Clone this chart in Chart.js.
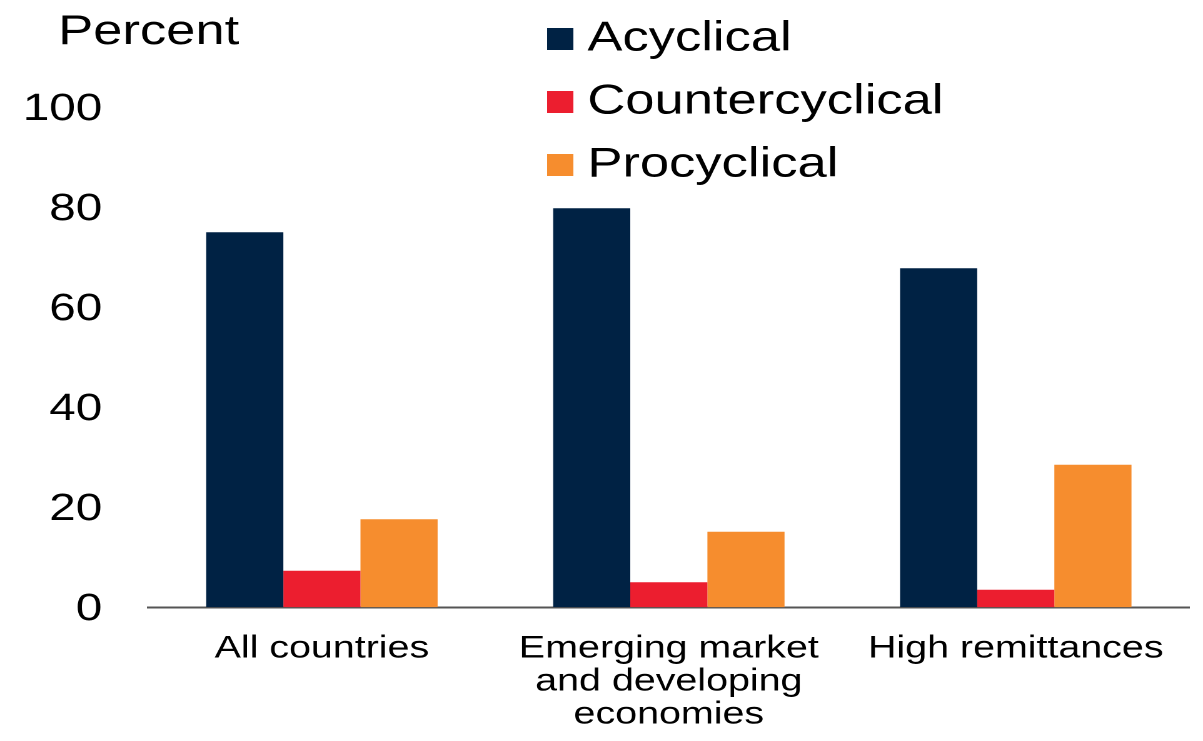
<!DOCTYPE html>
<html>
<head>
<meta charset="utf-8">
<script src="https://cdn.jsdelivr.net/npm/chart.js@4/dist/chart.umd.min.js"></script>
<style>
  html, body { margin: 0; padding: 0; background: #fff; overflow: hidden; }
  /* the reference is drawn horizontally stretched, so the chart is laid out narrower and scaled in x */
  #wrap { width: 962px; height: 741px; transform: scaleX(1.2505); transform-origin: 0 0; }
</style>
</head>
<body>
<div id="wrap"><canvas id="chart"></canvas></div>
<script>
const categories = [
    ['All countries'],
    ['Emerging market', 'and developing', 'economies'],
    ['High remittances']
];
const seriesNames = ['Acyclical', 'Countercyclical', 'Procyclical'];
const acyclical = [75.0, 79.8, 67.8];
const countercyclical = [7.3, 5.0, 3.5];
const procyclical = [17.6, 15.1, 28.5];
const seriesColors = ['#002244', '#EC1E2F', '#F68D2E'];
const yTicks = [0, 20, 40, 60, 80, 100];

const FONT = "'Liberation Sans', Arial, sans-serif";

// small square swatches for the legend (drawn as point style so the text sits close)
function makeSwatch(color) {
    const c = document.createElement('canvas');
    c.width = 21;
    c.height = 22;
    const g = c.getContext('2d');
    g.fillStyle = color;
    g.fillRect(0, 0, 21, 22);
    return c;
}
const swatches = seriesColors.map(makeSwatch);

// legend and title sit inside the plot area in the reference, move them after layout
const placeBlocks = {
    id: 'placeBlocks',
    afterLayout(chart) {
        if (chart.legend) {
            chart.legend.left = 426.7;
            chart.legend.top = -3;
        }
        if (chart.titleBlock) {
            chart.titleBlock.left = 46.5;
        }
    }
};

const ctx = document.getElementById('chart').getContext('2d');
new Chart(ctx, {
    type: 'bar',
    data: {
        labels: categories,
        datasets: [acyclical, countercyclical, procyclical].map((vals, i) => ({
            label: seriesNames[i],
            data: vals,
            backgroundColor: seriesColors[i],
            borderWidth: 0,
            barPercentage: 1,
            categoryPercentage: 0.667
        }))
    },
    options: {
        responsive: true,
        maintainAspectRatio: false,
        animation: false,
        devicePixelRatio: 2,
        layout: { padding: { left: 15, right: 11, top: 0, bottom: 9.7 } },
        plugins: {
            tooltip: { enabled: false },
            title: {
                display: true,
                text: 'Percent',
                align: 'start',
                color: '#000',
                font: { family: FONT, size: 42, weight: 'normal', lineHeight: 1.2 },
                padding: { top: 7, bottom: 49.9 }
            },
            legend: {
                position: 'chartArea',
                align: 'start',
                labels: {
                    color: '#000',
                    font: { family: FONT, size: 42 },
                    usePointStyle: true,
                    boxWidth: 1,
                    boxHeight: 22,
                    padding: 21,
                    textAlign: 'left',
                    generateLabels(chart) {
                        const items = Chart.defaults.plugins.legend.labels.generateLabels(chart);
                        items.forEach((it, i) => { it.pointStyle = swatches[i]; });
                        return items;
                    }
                }
            }
        },
        scales: {
            x: {
                grid: { display: false, drawTicks: false },
                border: { display: true, color: '#555', width: 2 },
                ticks: {
                    color: '#000',
                    font: { family: FONT, size: 31.5, lineHeight: 1.05 },
                    padding: 25,
                    maxRotation: 0,
                    autoSkip: false
                },
                afterFit(axis) { axis.height = 124; }
            },
            y: {
                min: 0,
                max: 100,
                afterBuildTicks(axis) { axis.ticks = yTicks.map(v => ({ value: v })); },
                grid: { display: false, drawTicks: false },
                border: { display: false },
                ticks: {
                    color: '#000',
                    font: { family: FONT, size: 38 },
                    padding: 37,
                    labelOffset: 2
                },
                afterFit(axis) { axis.width = 103.7; }
            }
        }
    },
    plugins: [placeBlocks]
});
</script>
</body>
</html>
